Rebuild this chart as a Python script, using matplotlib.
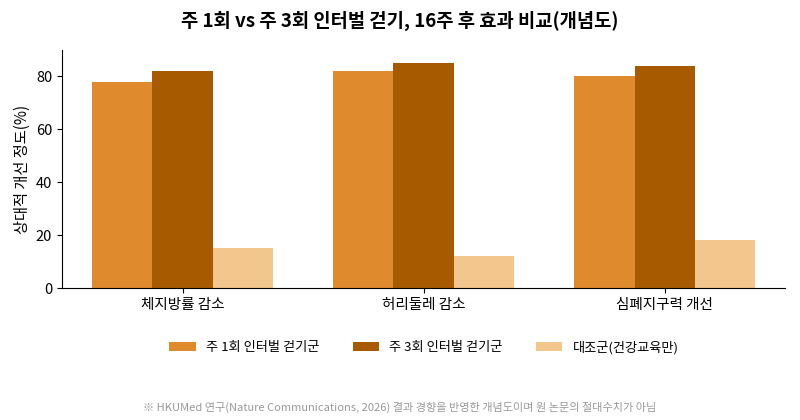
import matplotlib.pyplot as plt
import numpy as np

plt.rcParams['font.family'] = ['Noto Sans CJK KR', 'DejaVu Sans']

categories = ['체지방률 감소', '허리둘레 감소', '심폐지구력 개선']
series_names = ['주 1회 인터벌 걷기군', '주 3회 인터벌 걷기군', '대조군(건강교육만)']
once = [78, 82, 80]
thrice = [82, 85, 84]
control = [15, 12, 18]
colors = ['#E08A2E', '#A85A00', '#F2C68C']

fig = plt.figure(figsize=(8, 4.2), dpi=100)
ax = fig.add_axes([0.0775, 0.314, 0.904, 0.567])

x = np.arange(len(categories))
w = 0.25
for i, (vals, name, c) in enumerate(zip([once, thrice, control], series_names, colors)):
    ax.bar(x + (i - 1) * w, vals, w, color=c, label=name)

ax.set_xticks(x)
ax.set_xticklabels(categories, fontsize=11)
ax.set_xlim(-0.5, 2.5)
ax.set_ylim(0, 90)
ax.set_yticks([0, 20, 40, 60, 80])
ax.tick_params(labelsize=10.5)
ax.set_ylabel('상대적 개선 정도(%)', fontsize=11)
ax.spines['top'].set_visible(False)
ax.spines['right'].set_visible(False)

fig.suptitle('주 1회 vs 주 3회 인터벌 걷기, 16주 후 효과 비교(개념도)', fontsize=13.5,
             fontweight='bold', y=0.975)
fig.legend(loc='center', bbox_to_anchor=(0.53, 0.173), ncol=3, frameon=False,
           fontsize=9.5, handlelength=2, columnspacing=2.5)
fig.text(0.5, 0.022, '※ HKUMed 연구(Nature Communications, 2026) 결과 경향을 반영한 개념도이며 원 논문의 절대수치가 아님',
         ha='center', fontsize=8, color='#999999')

fig.savefig('out.png')
